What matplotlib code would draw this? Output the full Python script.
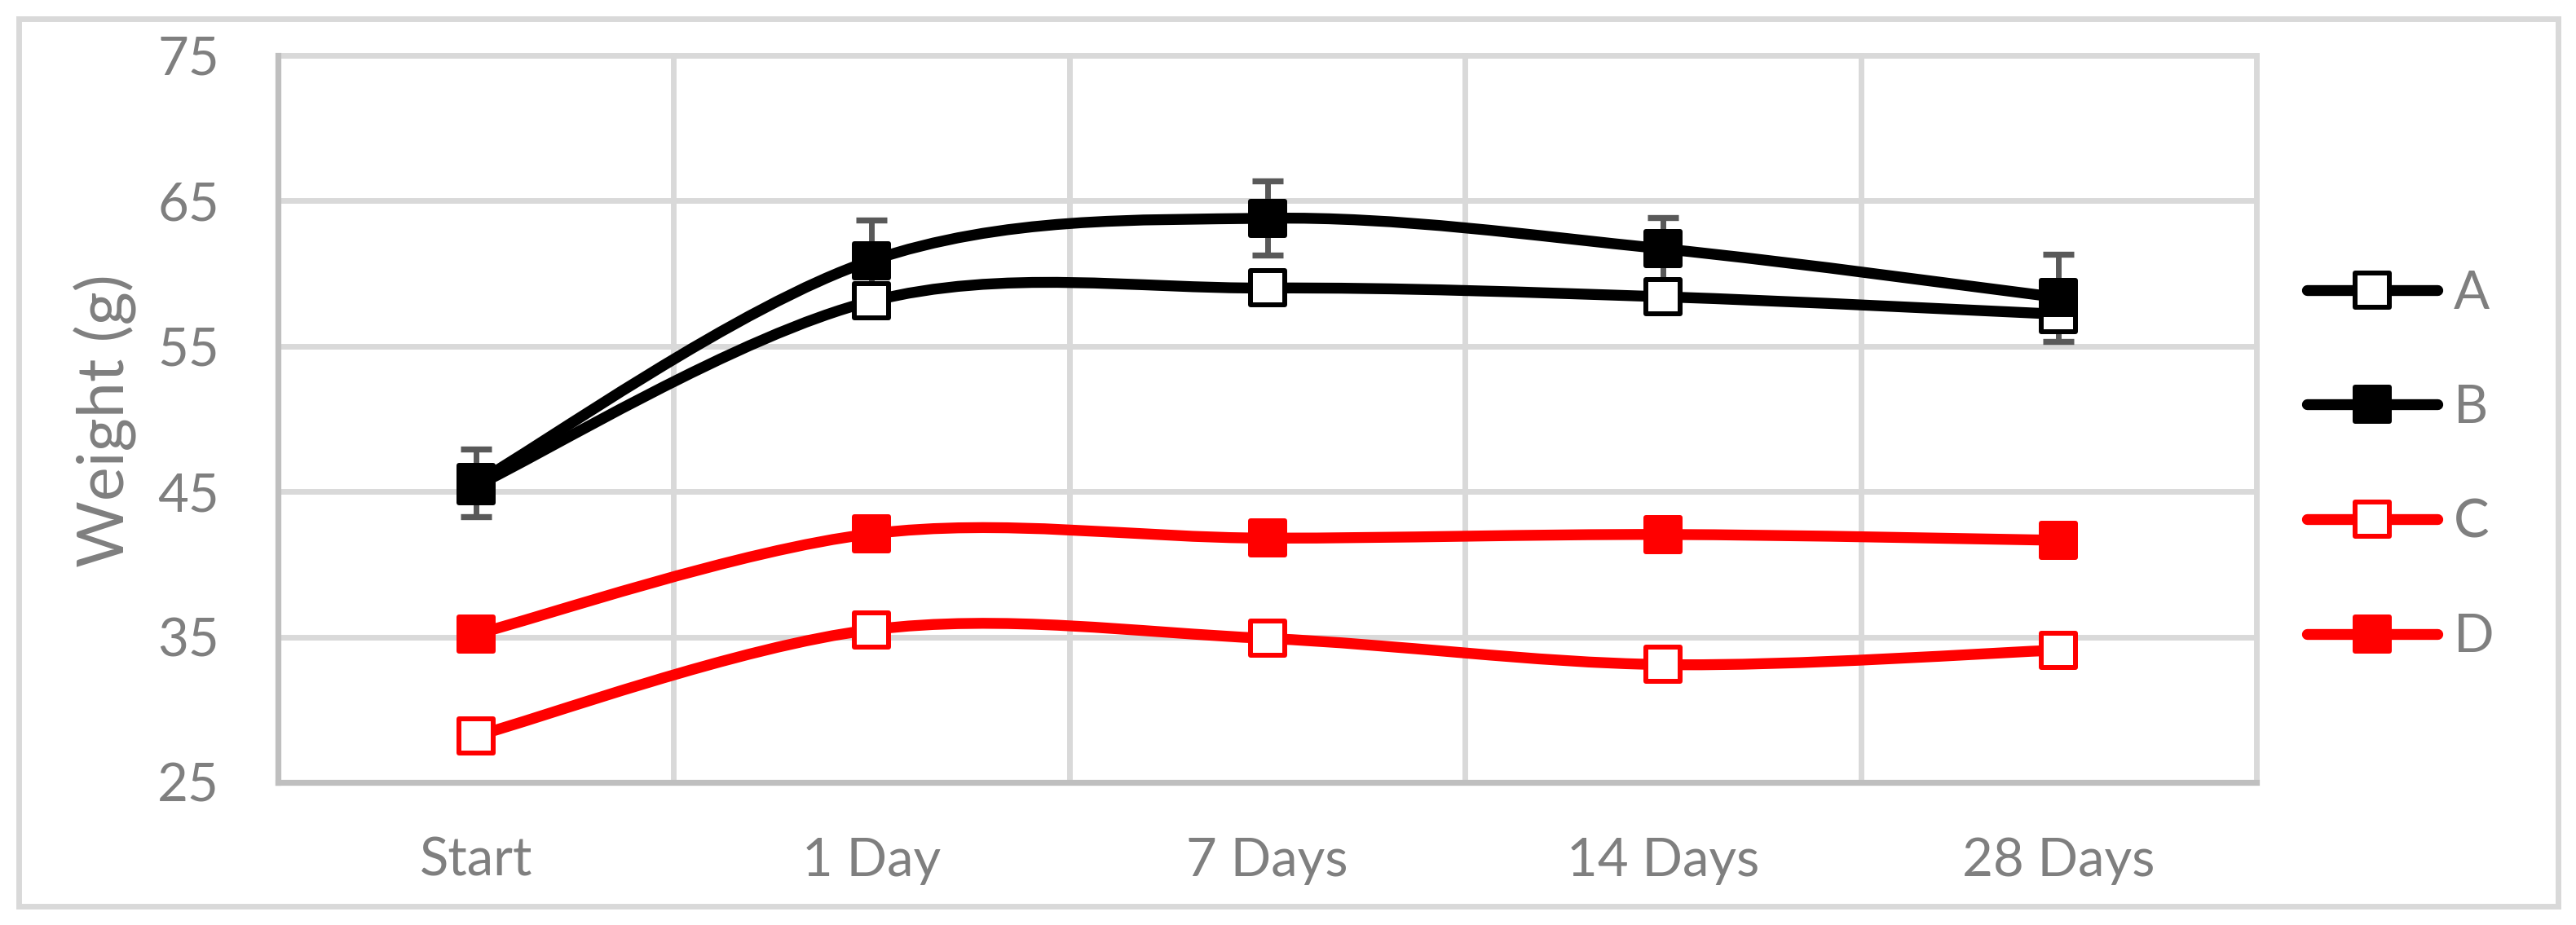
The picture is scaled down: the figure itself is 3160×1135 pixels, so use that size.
import matplotlib
matplotlib.use("Agg")
import matplotlib.pyplot as plt
import numpy as np
from matplotlib.path import Path
from matplotlib.patches import PathPatch, Rectangle
from matplotlib.lines import Line2D
from matplotlib.markers import MarkerStyle

# ---------------- data ----------------
categories = ['Start', '1 Day', '7 Days', '14 Days', '28 Days']
series_names = ['A', 'B', 'C', 'D']
A = [45.4, 58.1, 59.0, 58.4, 57.2]
B = [45.6, 60.9, 63.8, 61.7, 58.35]
B_err = [2.35, 2.8, 2.55, 2.15, 3.0]
C = [28.2, 35.5, 34.9, 33.1, 34.1]
D = [35.2, 42.1, 41.8, 42.05, 41.65]
y_ticks = [25, 35, 45, 55, 65, 75]
y_label = 'Weight (g)'

# ---------------- style ----------------
plt.rcParams['font.family'] = ['Lato', 'DejaVu Sans']
TEXT = '#7f7f7f'
GRID = '#d9d9d9'
AXIS = '#bfbfbf'
FS = 47
LW = 9.6
MS = 30.5
MEW = 4.3

W, H = 3160, 1135
fig = plt.figure(figsize=(W / 100, H / 100), dpi=100)
L, R, T, Bt = 341, 2768, 68, 960
ax = fig.add_axes([L / W, 1 - Bt / H, (R - L) / W, (Bt - T) / H])

x = np.arange(len(categories))


def smooth_path(xs, ys):
    pts = np.column_stack([xs, ys]).astype(float)
    n = len(pts)
    verts = [pts[0]]
    codes = [Path.MOVETO]
    for i in range(n - 1):
        p_prev = pts[i - 1] if i > 0 else pts[i]
        p_next2 = pts[i + 2] if i + 2 < n else pts[i + 1]
        c1 = pts[i] + (pts[i + 1] - p_prev) / 6.0
        c2 = pts[i + 1] - (p_next2 - pts[i]) / 6.0
        verts += [c1, c2, pts[i + 1]]
        codes += [Path.CURVE4] * 3
    return Path(verts, codes)


specs = [
    (A, 'black', 'white'),
    (B, 'black', 'black'),
    (C, '#ff0000', 'white'),
    (D, '#ff0000', '#ff0000'),
]

sq = MarkerStyle('s', joinstyle='round')

ax.errorbar(x, B, yerr=B_err, fmt='none', ecolor='#595959', elinewidth=5,
            capsize=14, capthick=5.3, zorder=3)

handles = []
for k, (vals, col, face) in enumerate(specs):
    z = 4 + 2 * k
    patch = PathPatch(smooth_path(x, vals), facecolor='none', edgecolor=col,
                      lw=LW, capstyle='round', joinstyle='round', zorder=z)
    ax.add_patch(patch)
    ax.plot(x, vals, linestyle='none', marker=sq, markersize=MS,
            markerfacecolor=face, markeredgecolor=col, markeredgewidth=MEW,
            zorder=z + 1)
    handles.append(Line2D([], [], color=col, lw=LW, solid_capstyle='round',
                          marker=sq, markersize=MS, markerfacecolor=face,
                          markeredgecolor=col, markeredgewidth=MEW))

ax.set_xlim(-0.5, len(categories) - 0.5)
ax.set_ylim(y_ticks[0], y_ticks[-1])
ax.set_xticks(x)
ax.set_xticklabels(categories)
ax.set_xticks(np.arange(-0.5, len(categories)), minor=True)
ax.set_yticks(y_ticks)
ax.tick_params(axis='both', which='both', length=0, labelsize=FS,
               labelcolor=TEXT)
ax.tick_params(axis='y', pad=52)
ax.tick_params(axis='x', pad=48)
ax.set_axisbelow(True)
ax.grid(axis='y', which='major', color=GRID, lw=5)
ax.grid(axis='x', which='minor', color=GRID, lw=5)
ax.grid(axis='x', which='major', visible=False)
gls = [t.gridline for t in ax.xaxis.get_minor_ticks()] + \
      [t.gridline for t in ax.yaxis.get_major_ticks()]
for gl in gls:
    gl.set_clip_on(False)

for s in ['top', 'right']:
    ax.spines[s].set_visible(False)
for s in ['left', 'bottom']:
    ax.spines[s].set_color(AXIS)
    ax.spines[s].set_linewidth(5.2)
    ax.spines[s].set_zorder(2.5)

fig.text(129 / W, 1 - 516 / H, y_label, rotation=90, ha='center', va='center',
         fontsize=57, color=TEXT)

fig.legend(handles, series_names, loc='center left',
           bbox_to_anchor=(2830 / W, 1 - 571 / H), frameon=False,
           fontsize=FS, labelcolor=TEXT, handlelength=2.45, handletextpad=0.3,
           labelspacing=1.25, borderpad=0, borderaxespad=0, numpoints=1)

fig.patches.append(Rectangle((23 / W, 1 - 1111.5 / H), (3138 - 23) / W,
                             (1111.5 - 22.5) / H, transform=fig.transFigure,
                             fill=False, edgecolor=GRID, lw=5, zorder=0))

fig.savefig('out.png', dpi=100)
